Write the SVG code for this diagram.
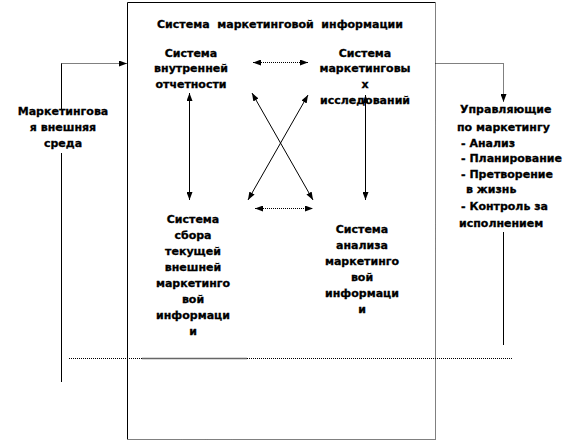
<svg xmlns="http://www.w3.org/2000/svg" width="578" height="441" viewBox="0 0 578 441">
<style>
text{font-family:"DejaVu Sans","Liberation Sans",sans-serif;font-weight:bold;font-size:11px;fill:#000;stroke:#000;stroke-width:0.3}
.c{text-anchor:middle}
.ln{stroke:#000;stroke-width:1;fill:none}
.dt{stroke:#000;stroke-width:1;fill:none;stroke-dasharray:1 1}
</style>
<defs>
<marker id="ah" viewBox="0 0 8 6" refX="8" refY="3" markerWidth="8" markerHeight="6" orient="auto-start-reverse" markerUnits="userSpaceOnUse">
<path d="M0,0 L8,3 L0,6 z" fill="#000"/>
</marker>
</defs>
<g id="frame">
<path class="ln" d="M127.5,439 V2.5 H435"/>
<path class="dt" d="M435.5,2.5 V439.5 H127.5"/>
</g>
<g id="title"><text class="c" x="280" y="28" xml:space="preserve">Система  маркетинговой  информации</text></g>
<g id="n-internal"><text class="c"><tspan x="191" y="57">Система</tspan><tspan x="191" y="72">внутренней</tspan><tspan x="191" y="88">отчетности</tspan></text></g>
<g id="n-research"><text class="c"><tspan x="365" y="57">Система</tspan><tspan x="365" y="72">маркетинговы</tspan><tspan x="365" y="88">х</tspan><tspan x="365" y="104">исследований</tspan></text></g>
<g id="n-collect"><text class="c"><tspan x="193" y="223">Система</tspan><tspan x="193" y="239">сбора</tspan><tspan x="193" y="255">текущей</tspan><tspan x="193" y="271">внешней</tspan><tspan x="193" y="287">маркетинго</tspan><tspan x="193" y="303">вой</tspan><tspan x="193" y="319">информаци</tspan><tspan x="193" y="335">и</tspan></text></g>
<g id="n-analysis"><text class="c"><tspan x="362" y="233">Система</tspan><tspan x="362" y="249">анализа</tspan><tspan x="362" y="265">маркетинго</tspan><tspan x="362" y="281">вой</tspan><tspan x="362" y="297">информаци</tspan><tspan x="362" y="313">и</tspan></text></g>
<g id="n-env"><text class="c"><tspan x="63" y="115">Маркетингова</tspan><tspan x="63" y="131">я внешняя</tspan><tspan x="63" y="147">среда</tspan></text></g>
<g id="n-managers"><text><tspan x="460" y="113">Управляющие</tspan><tspan x="457" y="131">по маркетингу</tspan><tspan x="461" y="147">- Анализ</tspan><tspan x="461" y="162">- Планирование</tspan><tspan x="461" y="178">- Претворение</tspan><tspan x="466" y="193">в жизнь</tspan><tspan x="461" y="210">- Контроль за</tspan><tspan x="459" y="227">исполнением</tspan></text></g>
<g id="connectors">
<path class="dt" d="M253,62.5 H308" marker-start="url(#ah)" marker-end="url(#ah)"/>
<path class="ln" d="M189.5,93 V200" marker-start="url(#ah)" marker-end="url(#ah)"/>
<path class="ln" d="M365.5,95 V200" marker-start="url(#ah)" marker-end="url(#ah)"/>
<path class="ln" d="M252,93 L313,200" marker-start="url(#ah)" marker-end="url(#ah)"/>
<path class="ln" d="M308,95 L248,200" marker-start="url(#ah)" marker-end="url(#ah)"/>
<path class="dt" d="M255,208.5 H313" marker-start="url(#ah)" marker-end="url(#ah)"/>
<path class="ln" d="M61.5,110 V63.5"/>
<path class="dt" d="M61.5,63.5 H127" marker-end="url(#ah)"/>
<path class="ln" d="M61.5,153 V382"/>
<path class="dt" d="M435.5,63.5 H503.5 V102" marker-end="url(#ah)"/>
<path class="ln" d="M503.5,232 V345"/>
<path class="dt" d="M69,358.5 H512"/>
<path d="M142,358.5 H247" stroke="#666" stroke-width="1.5"/>
</g>
</svg>
